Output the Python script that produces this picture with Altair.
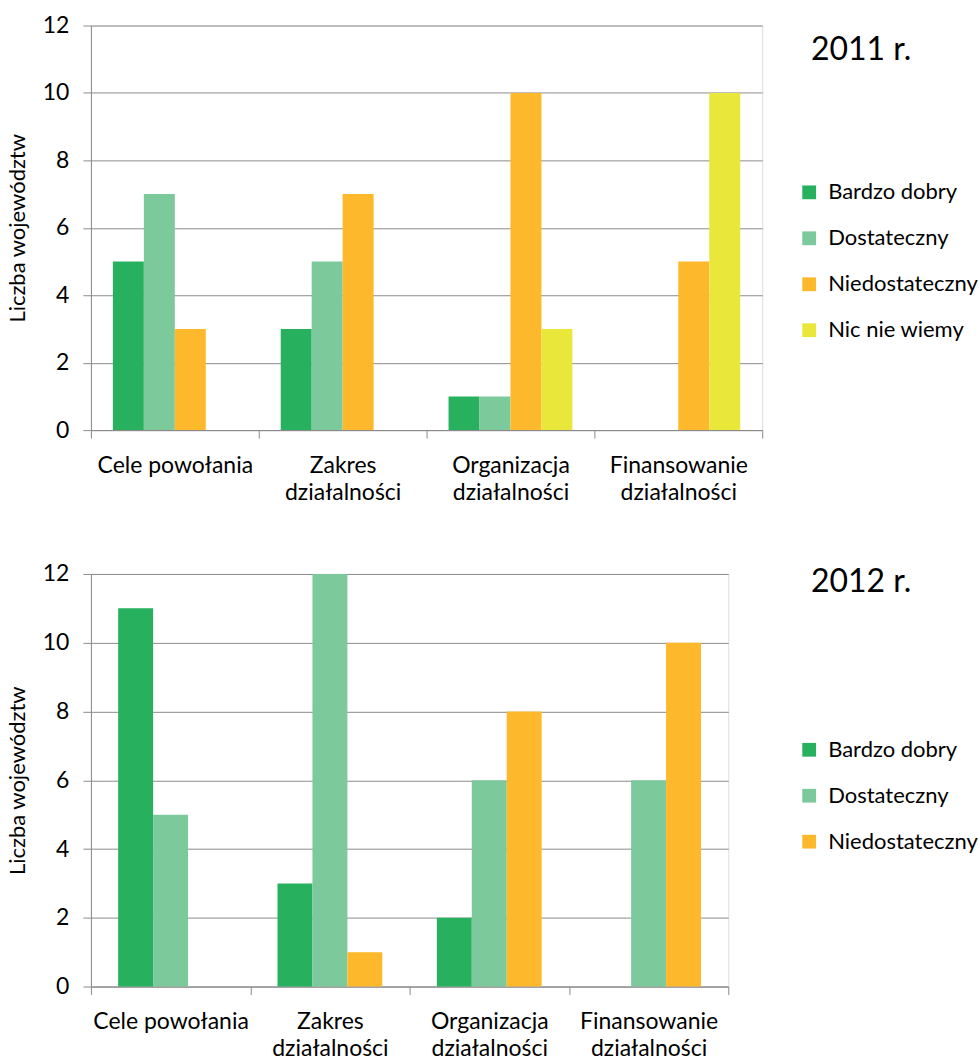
import altair as alt
import pandas as pd

categories = ["Cele powołania", "Zakres działalności", "Organizacja działalności", "Finansowanie działalności"]
series_2011 = ["Bardzo dobry", "Dostateczny", "Niedostateczny", "Nic nie wiemy"]
series_2012 = ["Bardzo dobry", "Dostateczny", "Niedostateczny"]
colors_2011 = ["#27B15F", "#7CC99B", "#FDB92B", "#E9E83A"]
colors_2012 = ["#27B15F", "#7CC99B", "#FDB92B"]

v2011_bardzo = [5, 3, 1, 0]
v2011_dost = [7, 5, 1, 0]
v2011_niedost = [3, 7, 10, 5]
v2011_nic = [0, 0, 3, 10]

v2012_bardzo = [11, 3, 2, 0]
v2012_dost = [5, 12, 6, 6]
v2012_niedost = [0, 1, 8, 10]

y_ticks = [0, 2, 4, 6, 8, 10, 12]

FONT = "Lato"
GRAY = "#8E8A8C"


def frame(series, values):
    rows = []
    for s, vals in zip(series, values):
        for c, v in zip(categories, vals):
            if v > 0:
                rows.append({"kat": c, "seria": s, "wartosc": v})
    return pd.DataFrame(rows)


df2011 = frame(series_2011, [v2011_bardzo, v2011_dost, v2011_niedost, v2011_nic])
df2012 = frame(series_2012, [v2012_bardzo, v2012_dost, v2012_niedost])

label_expr = ("!isValid(datum.value) ? '' : (datum.value == 'Cele powołania' ? datum.value "
              ": split(datum.value, ' '))")


def panel(df, series, colors, pad_outer, width, height, title_text, title_y, legend_x, legend_y):
    x_axis = alt.Axis(
        title=None, labelAngle=0, labelExpr=label_expr, labelFont=FONT, labelFontSize=23,
        labelColor="#000000", labelLineHeight=27, labelPadding=16, tickBand="extent",
        tickSize=8, tickColor=GRAY, domainColor=GRAY, grid=False,
    )
    y_axis = alt.Axis(
        title="Liczba województw", values=y_ticks, labelFont=FONT, labelFontSize=23,
        labelColor="#000000", labelPadding=14, tickSize=8, tickColor=GRAY,
        domainColor=GRAY, gridColor=GRAY, gridOpacity=1, titleFont=FONT,
        titleFontSize=22, titleFontWeight="normal", titleColor="#000000", titlePadding=13,
    )
    bars = alt.Chart(df).mark_bar().encode(
        x=alt.X("kat:N", sort=categories, scale=alt.Scale(domain=categories, paddingInner=0, paddingOuter=0), axis=x_axis),
        xOffset=alt.XOffset("seria:N", sort=series, scale=alt.Scale(domain=series, paddingInner=0, paddingOuter=pad_outer)),
        y=alt.Y("wartosc:Q", scale=alt.Scale(domain=[0, 12], nice=False), axis=y_axis),
        color=alt.Color(
            "seria:N", sort=series, scale=alt.Scale(domain=series, range=colors),
            legend=alt.Legend(
                title=None, orient="none", legendX=legend_x, legendY=legend_y,
                symbolType="square", symbolSize=190, symbolStrokeWidth=0, symbolOpacity=1,
                labelFont=FONT, labelFontSize=22, labelColor="#000000", rowPadding=24,
                labelOffset=8,
            ),
        ),
    )
    title = alt.Chart(pd.DataFrame({"t": [title_text]})).mark_text(
        font=FONT, fontSize=32, align="center", baseline="middle", color="#000000"
    ).encode(text="t:N", x=alt.value(771), y=alt.value(title_y))
    return alt.layer(bars, title).properties(width=width, height=height)


top = panel(df2011, series_2011, colors_2011, 0.71, 672, 405, "2011 r.", 25, 708, 156)
bottom = panel(df2012, series_2012, colors_2012, 0.78, 638, 413, "2012 r.", 8, 708, 165)

chart = alt.vconcat(top, bottom, spacing=57).resolve_scale(
    x="independent", xOffset="independent", y="independent", color="independent"
).properties(
    padding={"left": 5, "top": 13, "right": 0, "bottom": 0}
).configure_view(stroke=None).configure(background="white")

chart.save("out.html", embed_options={"renderer": "svg", "actions": False})
